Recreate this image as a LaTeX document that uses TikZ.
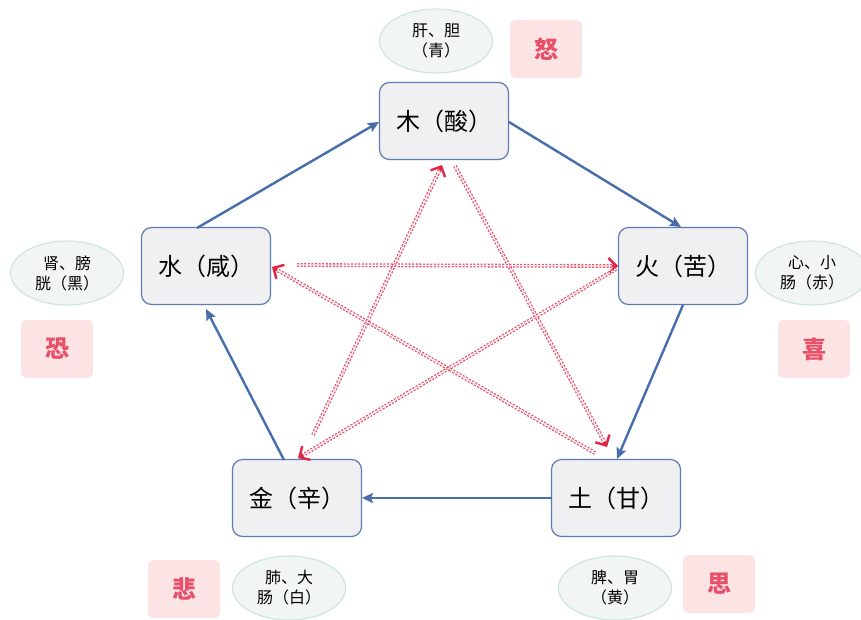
\documentclass[tikz,border=0pt]{standalone}
\usepackage{fontspec}
\setmainfont{Noto Sans CJK SC}
\usetikzlibrary{arrows.meta,shapes.geometric,calc}
\definecolor{boxfill}{RGB}{240,240,243}
\definecolor{boxline}{RGB}{95,125,175}
\definecolor{bluearrow}{RGB}{72,110,172}
\definecolor{redarrow}{RGB}{225,35,70}
\definecolor{ellfill}{RGB}{241,245,243}
\definecolor{ellline}{RGB}{205,232,218}
\definecolor{emofill}{RGB}{252,228,228}
\definecolor{emotext}{RGB}{232,80,105}
\tikzset{
  element/.style={draw=boxline, line width=1.2pt, fill=boxfill, rounded corners=10pt,
    minimum width=129pt, minimum height=77pt, inner sep=0pt,
    font=\fontsize{24}{28}\selectfont},
  organ/.style={ellipse, draw=ellline, line width=1.2pt, fill=ellfill,
    minimum width=113pt, minimum height=64pt, align=center, inner sep=0pt,
    font=\fontsize{16}{20}\selectfont},
  emotion/.style={fill=emofill, rounded corners=6pt, minimum width=72pt,
    minimum height=58pt, text=emotext, font=\fontsize{24}{28}\selectfont\bfseries},
  gen/.style={draw=bluearrow, line width=2.4pt, -{Stealth[length=11pt,width=10pt,inset=2pt]}},
  ctrl/.style={draw=redarrow!80, line width=1.3pt, double=white, double distance=1.2pt,
    dash pattern=on 2pt off 1.6pt},
  ctrltip/.style={draw=redarrow, line width=2.4pt,
    -{Straight Barb[length=8pt,width=16pt,line width=2.4pt]}}
}
\begin{document}
\begin{tikzpicture}[x=1pt,y=-1pt]
\useasboundingbox (0,0) rectangle (861,619);
\fill[white] (0,0) rectangle (861,619);
% element boxes
\node[element] (mu)   at (444,121) {木（酸）};
\node[element] (huo)  at (683,266) {火（苦）};
\node[element] (tu)   at (616,498) {土（甘）};
\node[element] (jin)  at (297,498) {金（辛）};
\node[element] (shui) at (206,266) {水（咸）};
% organs
\node[organ] (o1) at (436,41)  {肝、胆\\（青）};
\node[organ] (o2) at (812,273) {心、小\\肠（赤）};
\node[organ] (o3) at (615,588) {脾、胃\\（黄）};
\node[organ] (o4) at (289,588) {肺、大\\肠（白）};
\node[organ] (o5) at (67,273)  {肾、膀\\胱（黑）};
% emotions
\node[emotion] (e1) at (546,49)  {怒};
\node[emotion] (e2) at (814,349) {喜};
\node[emotion] (e3) at (719,584) {思};
\node[emotion] (e4) at (184,589) {悲};
\node[emotion] (e5) at (57,349)  {恐};
% generation cycle endpoints
\coordinate (a1) at (197,228); \coordinate (b1) at (379,122);
\coordinate (a2) at (509,122); \coordinate (b2) at (681,227);
\coordinate (a3) at (683,305); \coordinate (b3) at (617,459);
\coordinate (a4) at (552,498); \coordinate (b4) at (362,498);
\coordinate (a5) at (284,460); \coordinate (b5) at (206,309);
\draw[gen] (a1) -- (b1);
\draw[gen] (a2) -- (b2);
\draw[gen] (a3) -- (b3);
\draw[gen] (a4) -- (b4);
\draw[gen] (a5) -- (b5);
% control cycle endpoints
\coordinate (c1) at (455,166); \coordinate (d1) at (607,447);
\coordinate (c2) at (595,453); \coordinate (d2) at (272,267);
\coordinate (c3) at (297,265); \coordinate (d3) at (618,266);
\coordinate (c4) at (616,269); \coordinate (d4) at (298,458);
\coordinate (c5) at (313,435); \coordinate (d5) at (442,165);
\foreach \c/\d in {c1/d1,c2/d2,c3/d3,c4/d4,c5/d5}{
  \draw[ctrl] (\c) -- ($(\d)!3pt!(\c)$);
  \draw[ctrltip] ($(\d)!6pt!(\c)$) -- (\d);
}
\end{tikzpicture}
\end{document}
